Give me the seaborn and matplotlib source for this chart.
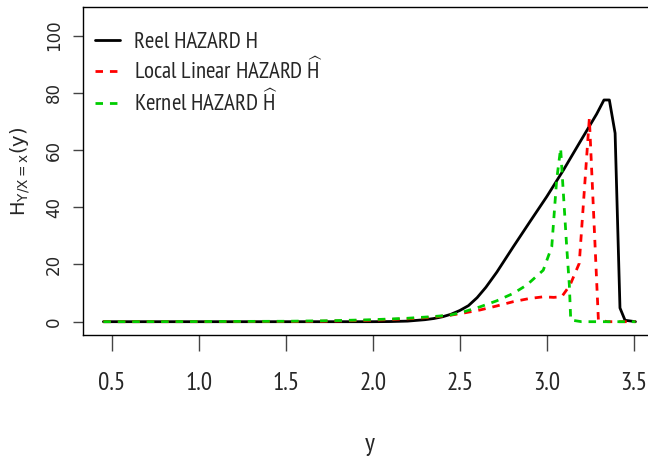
import matplotlib
matplotlib.use('Agg')
import matplotlib.pyplot as plt
import seaborn as sns

# values
black_x = [0.452, 1.0, 1.5, 2.0, 2.1, 2.2, 2.3, 2.35, 2.4, 2.45, 2.5, 2.55, 2.6, 2.65,
           2.713, 2.808, 2.904, 3.0, 3.096, 3.191, 3.287, 3.329, 3.36, 3.393, 3.421,
           3.45, 3.51]
black_y = [0, 0, 0, 0, 0.05, 0.2, 0.7, 1.1, 1.7, 2.6, 3.9, 5.6, 8.4, 12.0,
           17.3, 26.2, 35.0, 43.7, 53.0, 62.8, 72.6, 77.5, 77.5, 65.9, 4.8,
           0.5, 0]

red_x = [0.452, 1.0, 1.5, 1.7, 1.8, 2.0, 2.2, 2.35, 2.45, 2.52, 2.617, 2.713, 2.808,
         2.9, 2.98, 3.04, 3.086, 3.134, 3.187, 3.245, 3.297, 3.35, 3.51]
red_y = [0, 0, 0.05, 0.15, 0.25, 0.5, 1.0, 1.6, 2.3, 3.0, 4.1, 5.5, 7.0,
         8.1, 8.7, 8.5, 8.7, 12.8, 20.4, 71.1, 0.6, 0, 0]

green_x = [0.452, 1.0, 1.5, 1.7, 1.8, 2.0, 2.2, 2.35, 2.444, 2.52, 2.617, 2.713, 2.808,
           2.885, 2.98, 3.029, 3.057, 3.080, 3.092, 3.115, 3.13, 3.138, 3.2, 3.51]
green_y = [0, 0.05, 0.15, 0.3, 0.4, 0.7, 1.2, 1.8, 2.3, 3.4, 5.2, 7.3, 9.9,
           12.8, 18.0, 26.2, 49.5, 60.6, 48.5, 26.0, 12.8, 0.6, 0, 0]

x_ticks = [0.5, 1.0, 1.5, 2.0, 2.5, 3.0, 3.5]
y_ticks = [0, 20, 40, 60, 80, 100]
labels = ['Reel HAZARD H',
          r'Local Linear HAZARD $\widehat{\mathrm{H}}$',
          r'Kernel HAZARD $\widehat{\mathrm{H}}$']

sns.set_style('white')
narrow = 'PT Sans Narrow'
plt.rcParams['font.family'] = [narrow, 'Liberation Sans', 'DejaVu Sans']
plt.rcParams['mathtext.fontset'] = 'custom'
plt.rcParams['mathtext.rm'] = narrow
plt.rcParams['lines.dashed_pattern'] = [2.7, 2.5]

fig = plt.figure(figsize=(6.48, 4.62), dpi=100)
ax = fig.add_axes([0.1276, 0.2749, 0.8858, 0.7093])

sns.lineplot(x=black_x, y=black_y, ax=ax, color='black', lw=2, sort=False,
             estimator=None, label=labels[0])
sns.lineplot(x=red_x, y=red_y, ax=ax, color='#ff0000', lw=2, linestyle='--',
             sort=False, estimator=None, label=labels[1])
sns.lineplot(x=green_x, y=green_y, ax=ax, color='#00cd00', lw=2, linestyle='--',
             sort=False, estimator=None, label=labels[2])

ax.set_xlim(0.333, 3.632)
ax.set_ylim(-4.65, 109.9)
ax.set_xticks(x_ticks)
ax.set_xticklabels([f'{v:.1f}' for v in x_ticks])
ax.set_yticks(y_ticks)
ax.set_yticklabels([str(v) for v in y_ticks], family='DejaVu Sans', rotation=90,
                   va='center')

ax.tick_params(axis='x', length=11.5, width=1, pad=15, labelsize=18, color='#444444',
               bottom=True)
ax.tick_params(axis='y', length=7, width=1, pad=7, labelsize=12, color='#444444',
               left=True)
for s in ax.spines.values():
    s.set_color('black')
    s.set_linewidth(1)

ax.set_xlabel('y', fontsize=19)
ax.xaxis.set_label_coords(0.5, -0.333)
ax.xaxis.label.set_va('center')
ax.set_ylabel(r'$\mathrm{H}_{\mathrm{Y/X=x}}(\mathrm{y})$', fontsize=14,
              family='DejaVu Sans', math_fontfamily='dejavusans')
ax.yaxis.set_label_coords(-0.109, 0.5)
ax.yaxis.label.set_va('center')

ax.legend(loc='upper left', bbox_to_anchor=(0.0214, 0.925), frameon=False,
          fontsize=16.5, handlelength=1.1, handletextpad=0.6, labelspacing=0.2,
          borderaxespad=0, borderpad=0)

plt.savefig('out.png', dpi=100)
plt.close()
